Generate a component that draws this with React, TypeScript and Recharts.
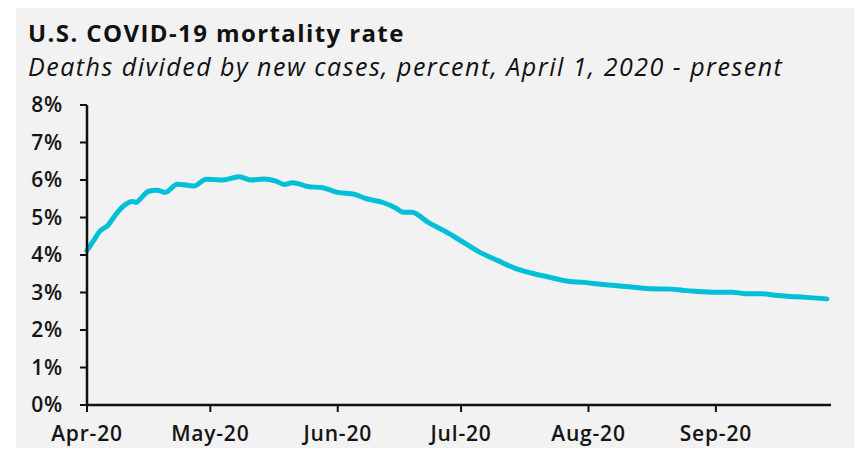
import React from 'react';
import { LineChart, Line, XAxis, YAxis } from 'recharts';

// days since April 1, 2020
const days = [
  0, 2, 3, 5, 7, 9, 11, 12, 13, 15, 17, 19, 22, 26, 29, 31, 33, 37, 40, 43,
  46, 48, 50, 54, 57, 61, 65, 68, 72, 75, 77, 79, 83, 87, 92, 96, 100, 104,
  108, 112, 117, 121, 125, 131, 137, 142, 146, 152, 157, 160, 164, 168, 175, 180,
];

// deaths divided by new cases, percent
const rates = [
  4.12, 4.45, 4.62, 4.78, 5.08, 5.32, 5.43, 5.4, 5.5, 5.7, 5.73, 5.67, 5.89, 5.84, 6.02, 6.01, 6.0, 6.09, 6.0, 6.03,
  5.97, 5.88, 5.93, 5.82, 5.8, 5.67, 5.62, 5.5, 5.4, 5.26, 5.14, 5.14, 4.87, 4.64, 4.31, 4.05, 3.85, 3.65,
  3.52, 3.42, 3.3, 3.27, 3.22, 3.16, 3.1, 3.09, 3.05, 3.01, 3.01, 2.97, 2.97, 2.92, 2.87, 2.83,
];

const monthTicks = [0, 30, 61, 91, 122, 153];
const monthLabels = ['Apr-20', 'May-20', 'Jun-20', 'Jul-20', 'Aug-20', 'Sep-20'];
const yTicks = [0, 1, 2, 3, 4, 5, 6, 7, 8];

const data = days.map((d, i) => ({ day: d, rate: rates[i] }));

const FONT = '"Open Sans", sans-serif';
const tickStyle = { fill: '#151515', fontSize: 21, fontWeight: 600, fontFamily: FONT, letterSpacing: 0.8 };

export default function App() {
  return (
    <div style={{ position: 'relative', width: 862, height: 456, margin: -8, background: '#fff', overflow: 'hidden' }}>
      <div style={{ position: 'absolute', left: 16, top: 6, right: 0, bottom: 0, background: '#f2f2f2' }} />
      <div
        style={{
          position: 'absolute', left: 28, top: 18, fontFamily: FONT, fontWeight: 700,
          fontSize: 24, letterSpacing: 1.4, color: '#111', whiteSpace: 'nowrap', lineHeight: '30px',
        }}
      >
        U.S. COVID-19 mortality rate
      </div>
      <div
        style={{
          position: 'absolute', left: 28, top: 50, fontFamily: FONT, fontStyle: 'italic',
          fontSize: 25, letterSpacing: 1.5, color: '#111', whiteSpace: 'nowrap', lineHeight: '32px',
        }}
      >
        Deaths divided by new cases, percent, April 1, 2020 - present
      </div>
      <div style={{ position: 'absolute', left: 0, top: 0 }}>
        <LineChart width={862} height={456} data={data} margin={{ top: 105, right: 31, bottom: 0, left: 0 }}>
          <XAxis
            dataKey="day"
            type="number"
            domain={[0, 181]}
            ticks={monthTicks}
            tickFormatter={(v: number) => monthLabels[monthTicks.indexOf(v)]}
            height={51}
            tickSize={7}
            tickMargin={14}
            tick={tickStyle}
            axisLine={{ stroke: '#111', strokeWidth: 2.5 }}
            tickLine={{ stroke: '#111', strokeWidth: 2 }}
            interval={0}
          />
          <YAxis
            type="number"
            domain={[0, 8]}
            ticks={yTicks}
            tickFormatter={(v: number) => `${v}%`}
            width={87}
            tickSize={7}
            tickMargin={17}
            tick={tickStyle}
            axisLine={{ stroke: '#111', strokeWidth: 2.5 }}
            tickLine={{ stroke: '#111', strokeWidth: 2 }}
            interval={0}
          />
          <Line
            type="monotone"
            dataKey="rate"
            stroke="#00c0d7"
            strokeWidth={5}
            strokeLinecap="round"
            strokeLinejoin="round"
            dot={false}
            isAnimationActive={false}
          />
        </LineChart>
      </div>
    </div>
  );
}
